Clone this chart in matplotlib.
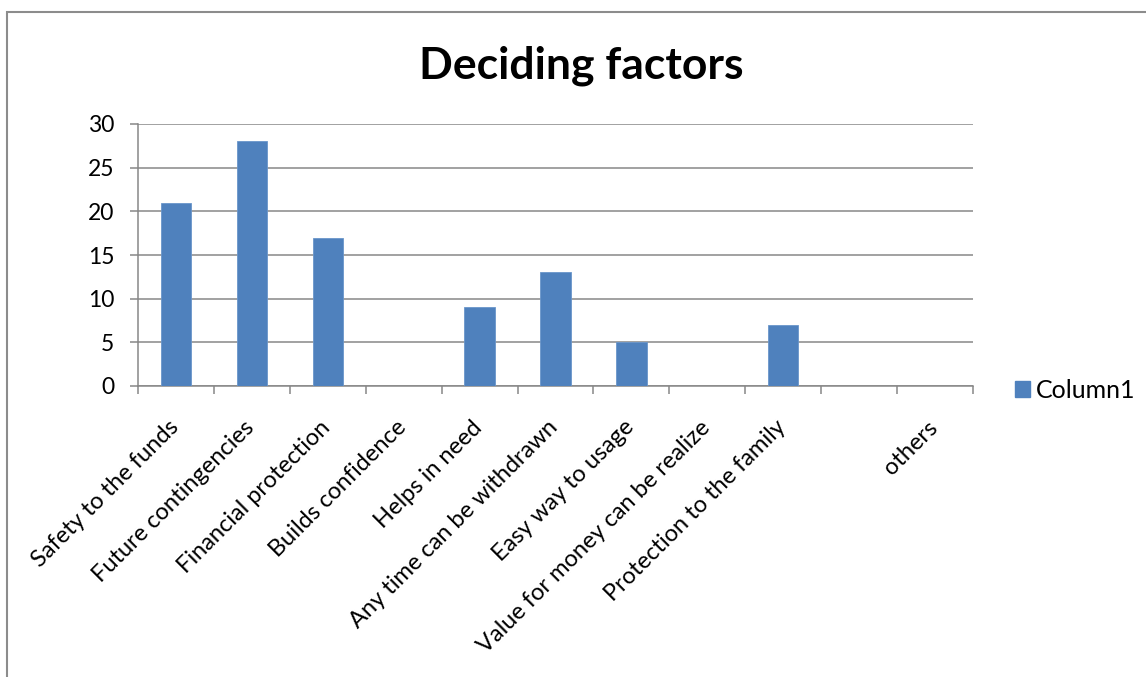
import matplotlib.pyplot as plt
from matplotlib.patches import Rectangle, Patch
import matplotlib.transforms as mtransforms

plt.rcParams['font.family'] = ['Lato', 'DejaVu Sans']

factors = ["Safety to the funds", "Future contingencies", "Financial protection",
           "Builds confidence", "Helps in need", "Any time can be withdrawn",
           "Easy way to usage", "Value for money can be realize",
           "Protection to the family", "", "others"]
column1 = [21, 28, 17, 0, 9, 13, 5, 0, 7, 0, 0]

W, H = 1146, 677
fig = plt.figure(figsize=(W / 100, H / 100), dpi=100)

# plot area in pixels: left 138, right 973, top 124, bottom 386
ax = fig.add_axes([138 / W, 1 - 386 / H, 835 / W, 262 / H])

grey = '#878787'
bar_col = '#4F81BD'
x = list(range(len(factors)))
ax.bar(x, column1, width=0.4, color=bar_col, edgecolor='#6A96CB', linewidth=0.6,
       zorder=3, label='Column1')

ax.set_xlim(-0.5, len(factors) - 0.5)
ax.set_ylim(0, 30)
ax.set_yticks(range(0, 31, 5))
ax.yaxis.grid(True, color=grey, linewidth=1.1, zorder=0)

for s in ['top', 'right']:
    ax.spines[s].set_visible(False)
for s in ['left', 'bottom']:
    ax.spines[s].set_color(grey)
    ax.spines[s].set_linewidth(1.1)

# tick marks sit on category boundaries, labels on the centres
ax.set_xticks([i - 0.5 for i in range(len(factors) + 1)])
ax.set_xticklabels([])
ax.set_xticks(x, minor=True)
ax.set_xticklabels(factors, minor=True, rotation=45, ha='right',
                   rotation_mode='anchor', fontsize=17)
ax.tick_params(axis='x', which='major', length=6, width=1.1, color=grey, direction='out')
ax.tick_params(axis='x', which='minor', length=0, pad=22)
ax.tick_params(axis='y', length=6, width=1.1, color=grey, pad=11, labelsize=16.5)

shift = mtransforms.ScaledTranslation(-6 / 72, 0, fig.dpi_scale_trans)
for lab in ax.get_xticklabels(minor=True):
    lab.set_transform(lab.get_transform() + shift)

fig.text(581 / W, 1 - 79 / H, 'Deciding factors', ha='center', va='baseline',
         fontsize=32, fontweight='bold')

fs = 18
sq = 15 / (fs * 100 / 72)
fig.legend(handles=[Patch(facecolor=bar_col, edgecolor=bar_col, label='Column1')],
           loc='center left', bbox_to_anchor=(1015 / W, 1 - 390 / H), frameon=False,
           fontsize=fs, handlelength=sq, handleheight=sq, handletextpad=0.25,
           borderaxespad=0, borderpad=0)

# outer chart frame, cut off at the right and bottom
fig.add_artist(Rectangle((7 / W, -0.1), 1.2, 1 - 12 / H + 0.1, transform=fig.transFigure,
                         fill=False, edgecolor='#8C8C8C', linewidth=1.5))

fig.savefig('out.png', dpi=100)
